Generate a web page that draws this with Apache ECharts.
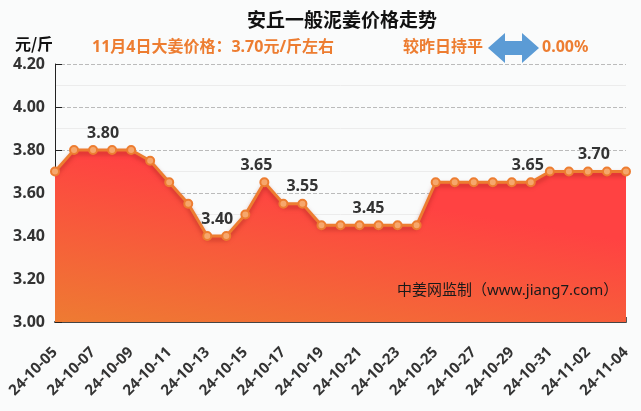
<!DOCTYPE html>
<html><head><meta charset="utf-8">
<script src="https://cdn.jsdelivr.net/npm/echarts@6/dist/echarts.min.js"></script>
<style>html,body{margin:0;padding:0;background:#fafbfb}#c{width:641px;height:411px}</style>
</head><body><div id="c"></div>
<script>
const dates = ['24-10-05','24-10-06','24-10-07','24-10-08','24-10-09','24-10-10','24-10-11','24-10-12','24-10-13','24-10-14','24-10-15','24-10-16','24-10-17','24-10-18','24-10-19','24-10-20','24-10-21','24-10-22','24-10-23','24-10-24','24-10-25','24-10-26','24-10-27','24-10-28','24-10-29','24-10-30','24-10-31','24-11-01','24-11-02','24-11-03','24-11-04'];
const prices = [3.70,3.80,3.80,3.80,3.80,3.75,3.65,3.55,3.40,3.40,3.50,3.65,3.55,3.55,3.45,3.45,3.45,3.45,3.45,3.45,3.65,3.65,3.65,3.65,3.65,3.65,3.70,3.70,3.70,3.70,3.70];
// labelled points: [index, horizontal offset]
const labelled = [[2,10],[8,10],[11,-8],[13,0],[16,9],[25,-3],[28,6]];
const yTicks = {min:3.0, max:4.2, interval:0.2};

const last = prices[prices.length-1], prev = prices[prices.length-2];
const pct = ((last-prev)/prev*100).toFixed(2)+'%';
const trend = last>prev?'较昨日上涨':(last<prev?'较昨日下跌':'较昨日持平');
const FONT = '"Noto Sans", "Noto Sans CJK SC", sans-serif';

const seriesData = prices.map((v,i)=>{
  const l = labelled.find(a=>a[0]===i);
  if(!l) return v;
  return {value:v,label:{show:true,position:'top',distance:4,offset:[l[1],0],formatter:p=>p.value.toFixed(2),
    fontSize:16,fontWeight:'bold',color:'#333',fontFamily:FONT}};
});

const chart = echarts.init(document.getElementById('c'));
chart.setOption({
  backgroundColor:'#fafbfb',
  animation:false,
  title:{text:'安丘一般泥姜价格走势',left:242,top:5,textStyle:{fontSize:19,fontWeight:'bold',color:'#111',fontFamily:'Noto Sans CJK SC'}},
  grid:{left:55,right:15,top:64,bottom:89},
  xAxis:{type:'category',data:dates,boundaryGap:false,
    axisLine:{lineStyle:{color:'#444',width:2}},
    axisTick:{inside:true,length:5,interval:0,lineStyle:{color:'#555'}},
    axisLabel:{interval:1,rotate:45,fontSize:15,fontWeight:'bold',color:'#333',fontFamily:FONT,margin:28},
    splitLine:{show:false}},
  yAxis:{type:'value',min:yTicks.min,max:yTicks.max,interval:yTicks.interval,
    name:'元/斤',nameLocation:'end',nameGap:12,
    nameTextStyle:{fontSize:16,fontWeight:'bold',color:'#111',fontFamily:'Noto Sans CJK SC',padding:[0,42,0,0]},
    axisLine:{show:true,lineStyle:{color:'#222'}},
    axisTick:{show:true,inside:true,length:7,lineStyle:{color:'#222'}},
    axisLabel:{formatter:v=>v.toFixed(2),fontSize:16,fontWeight:'bold',color:'#333',fontFamily:FONT,margin:10},
    splitLine:{show:true,lineStyle:{color:'#bbb',type:'dashed'}},
    minorTick:{show:false,splitNumber:2},
    minorSplitLine:{show:true,lineStyle:{color:'#ececec'}}},
  series:[{type:'line',data:seriesData,symbol:'circle',symbolSize:8,z:2,
    lineStyle:{color:'#ed7d31',width:3,shadowColor:'rgba(150,30,20,0.5)',shadowBlur:4,shadowOffsetY:3},
    itemStyle:{color:'#f6a76c',borderColor:'#ed7d31',borderWidth:2},
    areaStyle:{opacity:1,color:new echarts.graphic.LinearGradient(0,1,0.05,0,[{offset:0,color:'#ee7b32'},{offset:1,color:'#ff4242'}])}
  }],
  graphic:[
    {type:'text',left:92,top:39,z:100,style:{text:(()=>{const d=dates[dates.length-1].split('-');return (+d[1])+'月'+(+d[2])+'日大姜价格：'+last.toFixed(2)+'元/斤左右';})(),
      fill:'#ed7d31',font:'bold 16px '+FONT}},
    {type:'text',left:403,top:39,z:100,style:{text:trend,fill:'#ed7d31',font:'bold 16px '+FONT}},
    {type:'polygon',z:100,shape:{points:[[488,48],[505,33],[505,41],[522,41],[522,33],[539,48],[522,63],[522,55],[505,55],[505,63]]},style:{fill:'#5b9bd5'}},
    {type:'text',left:542,top:39,z:100,style:{text:pct,fill:'#ed7d31',font:'bold 16px '+FONT}},
    {type:'text',left:397,top:283,z:100,style:{text:'中姜网监制（www.jiang7.com）',fill:'#1a1a1a',font:'15px '+FONT}}
  ]
});
</script></body></html>
